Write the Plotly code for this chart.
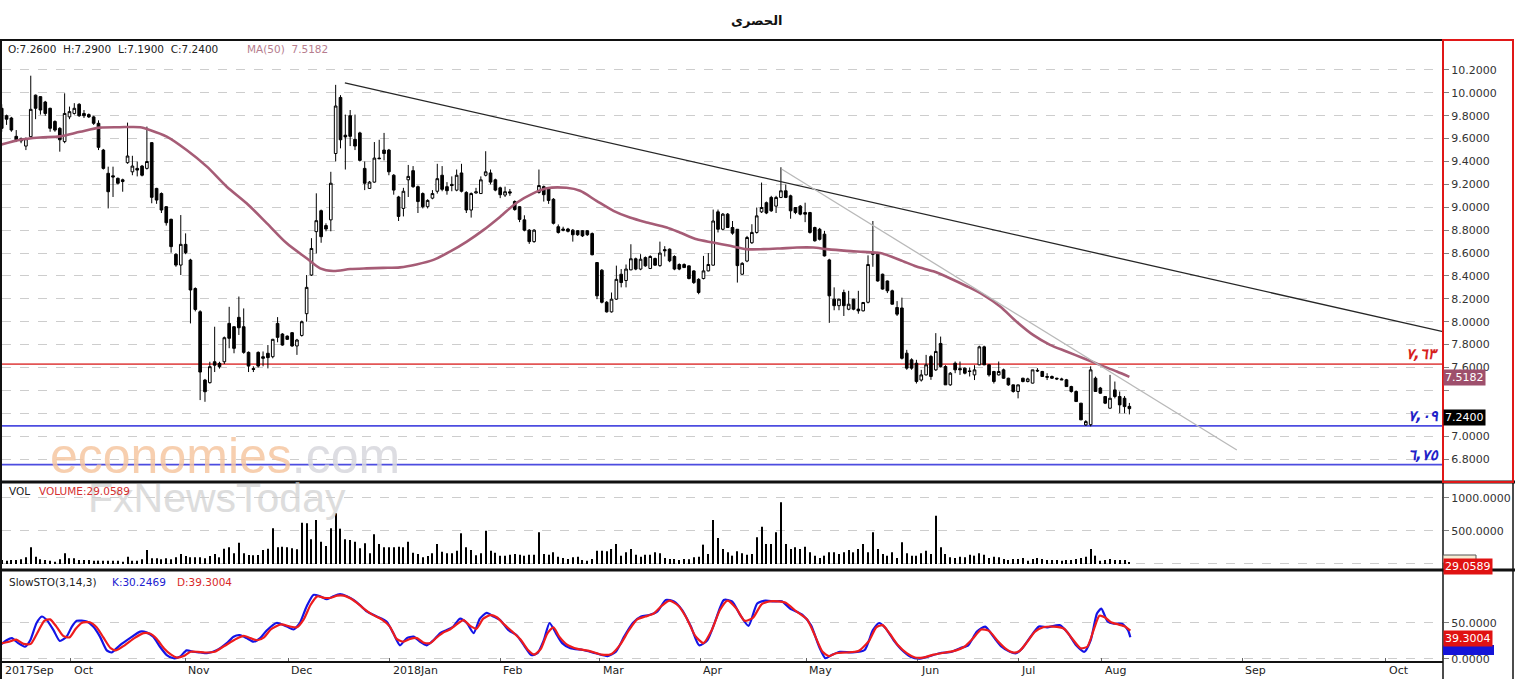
import plotly.graph_objects as go

# ---------------- data ----------------
TITLE = "الحصرى"

opens = [9.865, 9.80, 9.78, 9.62, 9.60, 9.535, 9.617, 9.98, 9.967, 9.92,
         9.865, 9.75, 9.69, 9.574, 9.79, 9.82, 9.90, 9.82, 9.81, 9.79,
         9.734, 9.50, 9.297, 9.275, 9.253, 9.24, 9.39, 9.31, 9.34, 9.36,
         9.34, 9.565, 9.165, 9.12, 9.005, 8.895, 8.589, 8.495, 8.676, 8.539,
         8.29, 8.087, 7.49, 7.467, 7.65, 7.636, 7.65, 7.985, 7.956, 8.038,
         7.956, 7.732, 7.59, 7.732, 7.694, 7.724, 7.694, 7.985, 7.892, 7.874,
         7.904, 7.788, 7.88, 8.07, 8.408, 8.787, 8.97, 8.84, 8.89, 9.47,
         9.96, 9.63, 9.80, 9.594, 9.65, 9.34, 9.165, 9.22, 9.43, 9.50,
         9.50, 9.28, 9.09,
         8.99, 9.24, 9.32, 9.18, 9.12, 9.005, 9.08,
         9.14, 9.28, 9.18, 9.20, 9.15, 9.30, 9.13, 8.976, 9.125, 9.12,
         9.28, 9.30, 9.24, 9.17, 9.107, 9.135, 9.05, 9.005, 8.89, 8.80,
         8.70, 9.13, 9.18, 9.165, 9.07, 8.83, 8.81, 8.81, 8.80, 8.795,
         8.795, 8.795, 8.77,
         8.517, 8.45, 8.17, 8.086, 8.197, 8.415, 8.36,
         8.453, 8.55, 8.46, 8.56, 8.465, 8.552, 8.49, 8.63, 8.634, 8.57,
         8.50, 8.50, 8.488, 8.444, 8.37, 8.377, 8.444, 8.494, 8.96, 8.808,
         8.94, 8.823, 8.808, 8.415, 8.53, 8.69, 8.78, 8.96, 9.04, 9.086,
         9.01, 9.086, 9.144, 9.10, 8.998, 9.01, 8.954, 8.954, 8.823, 8.808,
         8.765, 8.54, 8.197, 8.14, 8.255, 8.109, 8.197, 8.11, 8.095, 8.17,
         8.60, 8.60, 8.415, 8.356, 8.27, 8.124,
         8.12, 7.725, 7.667, 7.637,
         7.49, 7.535, 7.696, 7.579, 7.81, 7.608, 7.448, 7.637, 7.59, 7.594,
         7.57, 7.535, 7.623, 7.78, 7.623, 7.565, 7.535, 7.579, 7.506, 7.448,
         7.39, 7.506, 7.477, 7.463, 7.575, 7.565, 7.521, 7.521, 7.506, 7.50,
         7.492, 7.433, 7.39, 7.288, 7.098, 7.10, 7.506, 7.42, 7.346, 7.244,
         7.404, 7.346, 7.331, 7.26]

highs = [9.90, 9.81, 9.79, 9.675, 9.61, 9.61, 10.15, 9.985, 9.97, 9.93,
         9.87, 9.76, 9.70, 9.996, 9.88, 9.91, 9.91, 9.85, 9.82, 9.80,
         9.76, 9.51, 9.355, 9.355, 9.26, 9.25, 9.74, 9.45, 9.40, 9.37,
         9.705, 9.57, 9.17, 9.13, 9.01, 8.90, 8.60, 8.932, 8.772, 8.55,
         8.30, 8.10, 7.50, 7.65, 7.956, 7.65, 7.87, 8.13, 7.96, 8.22,
         8.116, 7.74, 7.61, 7.74, 7.74, 7.796, 7.85, 8.04, 7.90, 7.88,
         7.91, 7.85, 8.01, 8.408, 8.73, 9.122, 8.98, 8.86, 9.31, 10.07,
         9.98, 9.81, 9.85, 9.81, 9.66, 9.40, 9.23, 9.57, 9.59, 9.65,
         9.51, 9.29, 9.10,
         9.17, 9.37, 9.36, 9.19, 9.13, 9.07, 9.15,
         9.38, 9.36, 9.22, 9.27, 9.33, 9.38, 9.14, 9.13, 9.17, 9.27,
         9.49, 9.33, 9.25, 9.18, 9.18, 9.16, 9.06, 9.01, 8.93, 8.81,
         8.81, 9.33, 9.19, 9.17, 9.08, 8.85, 8.83, 8.82, 8.81, 8.80,
         8.80, 8.80, 8.78,
         8.52, 8.46, 8.18, 8.255, 8.49, 8.46, 8.50,
         8.677, 8.56, 8.59, 8.57, 8.58, 8.56, 8.70, 8.66, 8.64, 8.58,
         8.51, 8.51, 8.49, 8.45, 8.38, 8.575, 8.60, 8.98, 8.98, 8.95,
         8.95, 8.88, 8.81, 8.52, 8.75, 8.852, 8.998, 9.216, 9.05, 9.10,
         9.10, 9.35, 9.20, 9.11, 9.00, 9.02, 9.04, 8.96, 8.83, 8.82,
         8.794, 8.55, 8.30, 8.20, 8.28, 8.27, 8.20, 8.27, 8.17, 8.58,
         8.88, 8.61, 8.42, 8.36, 8.28, 8.18,
         8.21, 7.754, 7.68, 7.667,
         7.579, 7.71, 7.71, 7.90, 7.87, 7.62, 7.56, 7.652, 7.652, 7.60,
         7.60, 7.62, 7.79, 7.79, 7.63, 7.57, 7.652, 7.59, 7.51, 7.45,
         7.45, 7.51, 7.51, 7.58, 7.594, 7.57, 7.55, 7.53, 7.51, 7.51,
         7.50, 7.44, 7.40, 7.29, 7.14, 7.61, 7.52, 7.43, 7.35, 7.535,
         7.477, 7.39, 7.35, 7.29]

lows = [9.66, 9.72, 9.66, 9.57, 9.56, 9.50, 9.61, 9.77, 9.81, 9.80,
        9.66, 9.66, 9.486, 9.56, 9.77, 9.81, 9.79, 9.78, 9.78, 9.72,
        9.50, 9.33, 8.99, 9.09, 9.20, 9.136, 9.38, 9.28, 9.27, 9.27,
        9.33, 9.035, 9.03, 8.95, 8.84, 8.603, 8.48, 8.408, 8.59, 7.985,
        8.09, 7.315, 7.30, 7.46, 7.56, 7.59, 7.63, 7.768, 7.724, 7.884,
        7.72, 7.56, 7.56, 7.60, 7.61, 7.592, 7.68, 7.82, 7.79, 7.84,
        7.78, 7.71, 7.87, 8.0, 8.40, 8.597, 8.69, 8.79, 8.79, 9.40,
        9.515, 9.33, 9.535, 9.50, 9.40, 9.15, 9.16, 9.215, 9.42, 9.41,
        9.28, 9.11, 8.88,
        8.92, 9.09, 9.17, 8.95, 8.99, 8.99, 9.07,
        9.12, 9.14, 9.11, 9.14, 9.14, 9.13, 8.95, 8.91, 9.12, 9.12,
        9.27, 9.20, 9.14, 9.08, 9.09, 9.10, 8.97, 8.87, 8.79, 8.68,
        8.69, 9.12, 9.05, 9.03, 8.85, 8.77, 8.79, 8.78, 8.70, 8.75,
        8.74, 8.75, 8.58,
        8.197, 8.16, 8.08, 8.08, 8.19, 8.30, 8.30,
        8.45, 8.45, 8.45, 8.48, 8.46, 8.49, 8.48, 8.57, 8.52, 8.45,
        8.45, 8.47, 8.37, 8.33, 8.24, 8.37, 8.44, 8.49, 8.78, 8.80,
        8.82, 8.76, 8.342, 8.41, 8.52, 8.68, 8.77, 8.95, 8.94, 8.96,
        8.95, 9.08, 9.08, 8.90, 8.94, 8.93, 8.87, 8.77, 8.70, 8.71,
        8.57, 7.99, 8.10, 8.10, 8.05, 8.10, 8.10, 8.07, 8.09, 8.16,
        8.48, 8.35, 8.28, 8.25, 8.15, 8.05,
        7.67, 7.58, 7.58, 7.46,
        7.477, 7.53, 7.492, 7.57, 7.60, 7.448, 7.44, 7.55, 7.535, 7.54,
        7.521, 7.49, 7.62, 7.62, 7.52, 7.46, 7.53, 7.50, 7.44, 7.38,
        7.33, 7.47, 7.47, 7.46, 7.56, 7.52, 7.49, 7.50, 7.49, 7.49,
        7.43, 7.38, 7.30, 7.14, 7.09, 7.085, 7.39, 7.37, 7.28, 7.24,
        7.33, 7.20, 7.20, 7.19]

closes = [9.69, 9.77, 9.675, 9.59, 9.58, 9.60, 9.856, 9.865, 9.85, 9.82,
          9.69, 9.675, 9.59, 9.82, 9.836, 9.865, 9.80, 9.80, 9.79, 9.734,
          9.524, 9.34, 9.136, 9.265, 9.21, 9.225, 9.448, 9.36, 9.325, 9.28,
          9.40, 9.087, 9.063, 8.976, 8.865, 8.656, 8.495, 8.676, 8.603, 8.277,
          8.107, 7.56, 7.388, 7.607, 7.62, 7.607, 7.86, 7.855, 7.767, 7.947,
          7.732, 7.612, 7.583, 7.612, 7.68, 7.686, 7.846, 7.863, 7.796, 7.846,
          7.788, 7.84, 8.0, 8.30, 8.64, 8.883, 8.743, 8.81, 9.21, 9.885,
          9.59, 9.615, 9.62, 9.535, 9.41, 9.21, 9.22, 9.43, 9.425, 9.47,
          9.31, 9.15, 8.92,
          9.14, 9.27, 9.18, 9.05, 9.005, 9.06, 9.12,
          9.25, 9.157, 9.145, 9.19, 9.28, 9.14, 8.976, 9.12, 9.135, 9.24,
          9.31, 9.22, 9.15, 9.11, 9.136, 9.125, 8.98, 8.894, 8.80, 8.70,
          8.80, 9.19, 9.11, 9.06, 8.86, 8.78, 8.80, 8.79, 8.76, 8.76,
          8.75, 8.76, 8.585,
          8.226, 8.17, 8.086, 8.197, 8.37, 8.342, 8.46,
          8.55, 8.46, 8.546, 8.488, 8.57, 8.494, 8.60, 8.62, 8.532, 8.46,
          8.46, 8.473, 8.377, 8.342, 8.255, 8.444, 8.50, 8.88, 8.808, 8.94,
          8.823, 8.774, 8.49, 8.51, 8.736, 8.78, 8.925, 8.998, 8.95, 8.969,
          9.086, 9.144, 9.086, 8.969, 8.954, 8.94, 8.94, 8.78, 8.707, 8.72,
          8.575, 8.226, 8.14, 8.197, 8.14, 8.153, 8.109, 8.095, 8.168, 8.50,
          8.59, 8.356, 8.285, 8.27, 8.153, 8.066,
          7.68, 7.594, 7.594, 7.477,
          7.535, 7.623, 7.521, 7.74, 7.608, 7.448, 7.55, 7.579, 7.58, 7.55,
          7.565, 7.579, 7.78, 7.623, 7.535, 7.477, 7.565, 7.506, 7.448, 7.39,
          7.448, 7.477, 7.50, 7.579, 7.57, 7.521, 7.515, 7.506, 7.50, 7.492,
          7.433, 7.39, 7.302, 7.142, 7.127, 7.579, 7.39, 7.375, 7.288, 7.331,
          7.346, 7.273, 7.258, 7.24]

volumes = [61, 51, 61, 61, 71, 101, 252, 111, 71, 61,
           51, 35, 71, 162, 86, 86, 61, 61, 61, 51,
           51, 51, 51, 51, 51, 35, 111, 51, 51, 71,
           212, 86, 86, 71, 86, 71, 101, 152, 121, 101,
           101, 101, 86, 121, 152, 101, 232, 252, 162, 323,
           162, 136, 131, 136, 212, 232, 540, 252, 263, 252,
           237, 222, 626, 616, 374, 666, 338, 273, 540, 768,
           535, 374, 364, 338, 237, 313, 162, 450, 303, 252,
           252, 252, 263, 252, 338, 172, 152, 101, 121, 162,
           303, 187, 162, 162, 202, 465, 252, 212, 131, 162,
           505, 202, 172,
           126, 126, 141, 152, 141, 126, 141, 141, 480, 152,
           141, 177, 111, 91, 76, 101, 111, 61, 50, 76,
           202, 202, 192, 227, 303, 126, 177, 227, 141, 111,
           141, 141, 177, 162, 91, 76, 76, 61, 76, 71,
           101, 111, 293, 152, 667, 394, 227, 177, 126, 192,
           162, 141, 152, 404, 566, 303, 303, 480, 934, 303,
           227, 253, 227, 263, 177, 126, 91, 126, 177, 177,
           152, 177, 212, 177, 227, 303, 177, 480, 227, 152,
           126, 177, 91, 328, 162, 126, 126, 162, 202, 152,
           732, 253, 152, 101, 91, 111, 101, 141, 126, 162,
           141, 91, 111, 101, 76, 61, 76, 76, 91, 50,
           76, 91, 76, 61, 61, 61, 50, 61, 61, 76,
           91, 111, 227, 126, 50, 61, 76, 61, 61, 61, 29.0589]

# MA(50) read at sample bars
ma_x = [-0.35, 3.78, 7.91, 12.05, 16.2, 20.3, 24.4, 28.6, 30.6, 34.1, 38.2, 42.4,
        46.5, 50.6, 54.8, 58.9, 63.0, 65.8, 68.5, 72.0, 75.4, 78.8, 82.3, 85.7,
        89.2, 92.6, 96.1, 99.5, 103.0, 106.4, 109.8, 112.6, 116.7, 119.5, 122.9,
        126.4, 129.8, 133.3, 137.4, 140.1, 143.6, 147.0, 150.5, 153.9, 157.4,
        160.8, 164.3, 167.7, 170.5, 174.6, 178.0, 181.5, 185.6, 189.0, 192.5,
        195.9, 199.4, 202.8, 206.3, 209.7, 213.1, 216.6, 220.0, 223.5, 226.9,
        230.4, 233.0]
ma_v = [9.544, 9.59, 9.61, 9.62, 9.66, 9.696, 9.70, 9.70, 9.676, 9.617, 9.50, 9.355,
        9.18, 9.035, 8.86, 8.685, 8.554, 8.466, 8.443, 8.46, 8.466, 8.47, 8.475, 8.50,
        8.54, 8.612, 8.70, 8.80, 8.918, 9.04, 9.122, 9.166, 9.17, 9.144, 9.056,
        8.969, 8.91, 8.867, 8.823, 8.78, 8.72, 8.692, 8.663, 8.634, 8.634,
        8.64, 8.648, 8.648, 8.634, 8.619, 8.61, 8.60, 8.54, 8.482, 8.44,
        8.38, 8.31, 8.235, 8.133, 8.0, 7.885, 7.798, 7.74, 7.68, 7.623,
        7.565, 7.5182]

# Slow stochastic %K (blue)
k_x = [-0.35, 1.0, 2.1, 3.4, 4.8, 5.9, 7.2, 8.3, 9.3, 10.7, 12.0, 13.4, 14.5, 15.5,
       17.6, 18.9, 20.3, 21.7, 22.7, 24.4, 26.5, 28.6, 29.9, 31.3, 32.7, 34.1, 35.5,
       36.8, 38.2, 39.6, 41.0, 42.4, 44.4, 46.5, 47.9, 49.2, 50.6, 52.0, 53.4, 54.8,
       56.8, 58.9, 60.3, 61.6, 63.0, 64.4, 65.8, 67.2, 68.5, 69.9, 71.3, 72.7, 74.0,
       75.4, 77.5, 79.5, 80.9, 82.3, 83.7, 85.1, 86.4, 87.8, 89.2, 90.6, 91.9, 93.3,
       94.7, 96.1, 97.5, 98.8, 100.2, 101.6, 103.0,
       104.7, 106.4, 108.1, 109.4, 110.7, 112.0, 113.2, 114.5, 115.8, 117.5, 120.1,
       122.7, 125.2, 126.9, 128.6, 130.4, 132.1, 133.8, 135.5, 137.2, 138.9, 140.6,
       142.4, 144.1, 145.8, 147.5, 149.2, 150.9, 152.6, 154.3, 156.1, 157.8, 159.5,
       161.2, 162.9, 165.5, 167.2, 168.9, 170.2, 171.5, 173.2, 175.8, 178.3, 180.0,
       181.3, 182.6, 184.3, 186.0, 187.8, 189.5, 191.2, 193.8, 196.3, 198.0, 199.7,
       201.5, 203.2, 204.9, 206.6, 208.3, 209.6, 210.9, 212.6, 214.3, 216.0, 218.6,
       220.3, 222.0, 223.7, 225.0, 226.3, 227.2, 228.5, 229.8, 231.5, 232.7, 233.2]
k_v = [19, 26, 29, 22, 17, 26, 50, 59, 54, 40, 25, 31, 45, 53,
       52, 45, 31, 12, 9, 19, 29, 38, 37, 31, 17, 5.5, 1,
       3, 12, 10, 9, 8, 12, 22, 31, 33, 29, 24, 29, 40,
       50, 45, 41, 50, 73, 89, 87, 83, 87, 90, 87, 82, 75,
       66, 59, 52, 36, 19, 29, 31, 24, 19, 26, 36, 40, 45,
       56, 50, 36, 56, 64, 59, 54,
       40, 33, 17, 5.5, 8, 26, 50, 36, 22, 15, 12.5,
       8, 4, 10, 31, 50, 59, 61, 66, 82, 80, 68,
       45, 19, 26, 54, 82, 80, 61, 46, 77, 81, 80,
       80, 70, 61, 47, 17, 1, 5.5, 10, 9, 12.5, 40,
       50, 43, 26, 12.5, 3, 0.5, 3, 8, 10, 15, 19,
       38, 45, 31, 17, 10, 8, 15, 31, 45, 44, 47,
       36, 19, 10, 26, 63, 70, 52, 49, 49, 40, 30.2469]

# Slow stochastic %D (red)
d_x = [0, 1.5, 3.0, 4.5, 6.0, 7.5, 8.8, 10.0, 11.3, 12.7, 14.0, 15.3, 16.5, 18.2,
       19.6, 21.0, 22.5, 23.6, 25.4, 27.4, 29.3, 30.7, 32.0, 33.5, 35.0, 36.2, 37.6,
       39.0, 40.5, 42.0, 44.0, 46.0, 48.5, 50.0, 51.4, 52.8, 54.2, 55.6, 57.7, 59.6,
       61.0, 62.4, 63.8, 65.2, 66.6, 68.0, 69.3, 70.7, 72.1, 73.4, 74.8, 76.5, 78.5,
       80.2, 81.6, 83.0, 84.4, 85.8, 87.1, 88.5, 89.9, 91.3, 92.6, 94.0, 95.4, 96.8,
       98.1, 99.5, 101.0, 102.3, 103.8, 105.5, 107.2, 108.8, 110.0, 111.4, 112.7,
       114.0, 115.2, 116.8, 119.0, 121.5, 124.0, 126.0, 127.8, 129.6, 131.3, 133.0,
       134.7, 136.4, 138.0, 139.8, 141.5, 143.3, 145.0, 146.7, 148.4, 150.0, 151.8,
       153.5, 155.2, 157.0, 158.7, 160.4, 162.0, 164.2, 166.4, 168.0, 169.6, 170.9,
       172.4, 174.5, 177.0, 179.2, 180.7, 182.0, 183.5, 185.2, 187.0, 188.7, 190.4,
       192.5, 195.0, 197.2, 198.9, 200.6, 202.4, 204.0, 205.8, 207.5, 209.0, 210.3,
       211.8, 213.5, 215.2, 217.3, 219.5, 221.2, 222.9, 224.3, 225.7, 226.8, 227.9,
       229.2, 230.7, 232.1, 233.2]
d_v = [22, 24, 27, 21, 21, 38, 53, 55, 45, 32, 30, 42, 50, 51,
       44, 30, 15, 12, 19, 29, 36, 35, 28, 15, 6, 2, 4,
       10, 10, 9, 10, 18, 28, 32, 29, 26, 30, 41, 48, 45,
       44, 55, 75, 87, 85, 85, 88, 88, 84, 78, 70, 62, 55,
       45, 28, 24, 28, 29, 23, 22, 30, 37, 41, 48, 54, 46,
       42, 56, 61, 58, 48, 38, 27, 12, 6, 14, 35,
       44, 31, 20, 14, 11, 6, 7, 20, 40, 55, 59,
       63, 74, 81, 74, 57, 32, 22, 40, 68, 81, 70,
       53, 57, 76, 80, 80, 78, 66, 55, 33, 10, 4,
       8, 9, 11, 25, 44, 47, 35, 19, 8, 2, 2,
       6, 9, 12, 17, 28, 41, 39, 25, 14, 9, 11,
       23, 38, 44, 45, 42, 28, 15, 17, 42, 60, 58,
       51, 48, 45, 39.3004]

# month boundaries (bar index) and labels of the time axis
month_pos = [0, 14.3, 37.9, 59.2, 80.2, 103.0, 123.6, 144.3, 166.2, 189.3, 210.0, 227.3, 256.3, 286.0]
month_labels = ["2017Sep", "Oct", "Nov", "Dec", "2018Jan", "Feb", "Mar", "Apr",
                "May", "Jun", "Jul", "Aug", "Sep", "Oct"]

price_ticks = [6.8, 7.0, 7.2, 7.4, 7.6, 7.8, 8.0, 8.2, 8.4, 8.6, 8.8, 9.0,
               9.2, 9.4, 9.6, 9.8, 10.0, 10.2]
price_hidden = [7.2, 7.4]          # labels covered by the value tags in the reference
vol_ticks = [0, 500, 1000]
vol_hidden = [0]
sto_ticks = [0, 50]

# drawn trend lines (bar index, price)
trend_black_x = [70.9, 297.8]
trend_black_y = [10.087, 7.913]
trend_gray_x = [161.2, 255.2]
trend_gray_y = [9.332, 6.879]

# horizontal levels
level_values = [7.63, 7.09, 6.75]
level_labels = ["٧,٦٣", "٧,٠٩", "٦,٧٥"]
level_colors = ["#e25555", "#4c4ce0", "#4c4ce0"]
level_text_colors = ["#d61f1f", "#1f1fc8", "#1f1fc8"]

# ---------------- layout geometry ----------------
W, H = 1515, 679
PL, PR, PT, PB = 2, 1443, 40, 662
PW, PH = PR - PL, PB - PT


def fx(px):
    return (px - PL) / PW


def fy(py):
    return (PB - py) / PH


def tick_text(vals, hidden):
    return ["" if v in hidden else "%.4f" % v for v in vals]


idx = list(range(len(closes)))
FONT = "DejaVu Sans"

fig = go.Figure()

fig.add_trace(go.Candlestick(
    x=idx, open=opens, high=highs, low=lows, close=closes,
    increasing=dict(line=dict(color="black", width=1), fillcolor="white"),
    decreasing=dict(line=dict(color="black", width=1), fillcolor="black"),
    whiskerwidth=0, xaxis="x", yaxis="y", showlegend=False, hoverinfo="skip"))

fig.add_trace(go.Scatter(x=ma_x, y=ma_v, mode="lines", xaxis="x", yaxis="y",
                         line=dict(color="#a65c76", width=2.6, shape="spline", smoothing=0.8),
                         showlegend=False, hoverinfo="skip"))

fig.add_trace(go.Scatter(x=trend_black_x, y=trend_black_y, mode="lines", xaxis="x", yaxis="y",
                         line=dict(color="#262626", width=1.3), showlegend=False, hoverinfo="skip"))
fig.add_trace(go.Scatter(x=trend_gray_x, y=trend_gray_y, mode="lines", xaxis="x", yaxis="y",
                         line=dict(color="#b9b9b9", width=1.3), showlegend=False, hoverinfo="skip"))

fig.add_trace(go.Bar(x=idx, y=volumes, width=0.22, xaxis="x", yaxis="y2",
                     marker=dict(color="black", line=dict(width=0)),
                     showlegend=False, hoverinfo="skip"))

fig.add_trace(go.Scatter(x=k_x, y=k_v, mode="lines", xaxis="x", yaxis="y3",
                         line=dict(color="#1414e6", width=2.2, shape="spline", smoothing=0.6),
                         showlegend=False, hoverinfo="skip"))
fig.add_trace(go.Scatter(x=d_x, y=d_v, mode="lines", xaxis="x", yaxis="y3",
                         line=dict(color="#ee1c1c", width=2.2, shape="spline", smoothing=0.6),
                         showlegend=False, hoverinfo="skip"))

axis_common = dict(side="right", anchor="x", showgrid=True, gridcolor="#cdcdcd",
                   griddash="dash", gridwidth=1, zeroline=False, showline=False,
                   ticks="outside", ticklen=5, tickcolor="#808080",
                   tickfont=dict(family=FONT, size=11, color="#333333"),
                   fixedrange=True)

fig.update_layout(
    width=W, height=H,
    margin=dict(l=PL, r=W - PR, t=PT, b=H - PB),
    paper_bgcolor="white", plot_bgcolor="white",
    hovermode=False, showlegend=False, boxgap=0.22,
    xaxis=dict(domain=[0, 1], range=[0.06, 297.8], anchor="y3", showgrid=False,
               zeroline=False, showline=False, tickvals=month_pos,
               ticktext=[""] * len(month_pos), ticks="inside", ticklen=4,
               tickcolor="#666666", rangeslider=dict(visible=False), fixedrange=True),
    yaxis=dict(domain=[fy(482), 1], range=[6.599, 10.462], tickvals=price_ticks,
               ticktext=tick_text(price_ticks, price_hidden), **axis_common),
    yaxis2=dict(domain=[fy(570), fy(482)], range=[-91, 1242], tickvals=vol_ticks,
                ticktext=tick_text(vol_ticks, vol_hidden), **axis_common),
    yaxis3=dict(domain=[0, fy(570)], range=[-4.2, 123.6], tickvals=sto_ticks,
                ticktext=tick_text(sto_ticks, []), **axis_common),
)

shapes = []
# horizontal levels
for v, c in zip(level_values, level_colors):
    shapes.append(dict(type="line", xref="paper", yref="y", x0=0, x1=1, y0=v, y1=v,
                       line=dict(color=c, width=1.8), layer="below"))
# frame lines
blk = "#111111"
shapes += [
    dict(type="line", xref="paper", yref="paper", x0=fx(0), x1=1, y0=1, y1=1, line=dict(color=blk, width=2)),
    dict(type="line", xref="paper", yref="paper", x0=fx(1), x1=fx(1), y0=fy(679), y1=1, line=dict(color=blk, width=2)),
    dict(type="line", xref="paper", yref="paper", x0=fx(0), x1=fx(1515), y0=fy(482), y1=fy(482), line=dict(color=blk, width=3)),
    dict(type="line", xref="paper", yref="paper", x0=fx(0), x1=fx(1515), y0=fy(570), y1=fy(570), line=dict(color=blk, width=3)),
    dict(type="line", xref="paper", yref="paper", x0=fx(0), x1=1, y0=0, y1=0, line=dict(color=blk, width=2)),
    dict(type="line", xref="paper", yref="paper", x0=1, x1=1, y0=fy(679), y1=fy(482), line=dict(color=blk, width=1.5)),
    dict(type="line", xref="paper", yref="paper", x0=fx(1513), x1=fx(1513), y0=fy(679), y1=fy(482), line=dict(color=blk, width=1.5)),
    dict(type="rect", xref="paper", yref="paper", x0=1, x1=fx(1513), y0=fy(482), y1=1,
         line=dict(color="#e01818", width=2)),
    # small boxes on the volume / stochastic scales
    dict(type="rect", xref="paper", yref="paper", x0=1, x1=fx(1476), y0=fy(563), y1=fy(555),
         line=dict(color="#555555", width=1), fillcolor="#f6ecd4"),
    dict(type="rect", xref="paper", yref="paper", x0=1, x1=fx(1494), y0=fy(655), y1=fy(645),
         line=dict(width=0), fillcolor="#1414d8"),
]
fig.update_layout(shapes=shapes)

ann = []
# watermarks (drawn first, under the other texts)
ann.append(dict(text="<span style='color:#f6c7a2'>economies</span><span style='color:#d8d8de'>.com</span>",
                xref="paper", yref="paper", x=fx(48), y=fy(456), xanchor="left", yanchor="middle",
                showarrow=False, opacity=0.85, font=dict(family="Liberation Sans", size=50)))
ann.append(dict(text="FxNewsToday", xref="paper", yref="paper", x=fx(86), y=fy(498),
                xanchor="left", yanchor="middle", showarrow=False, opacity=0.7,
                font=dict(family="Liberation Sans", size=41, color="#cfcfcf")))
# title
ann.append(dict(text="<b>" + TITLE + "</b>", xref="paper", yref="paper", x=fx(757), y=fy(20),
                xanchor="center", yanchor="middle", showarrow=False,
                font=dict(family=FONT, size=13, color="#111111")))
# header lines
ohlc_txt = "O:%.4f&nbsp;&nbsp;H:%.4f&nbsp;&nbsp;L:%.4f&nbsp;&nbsp;C:%.4f" % (
    opens[-1], highs[-1], lows[-1], closes[-1])
ann.append(dict(text=ohlc_txt, xref="paper", yref="paper", x=fx(6), y=fy(49),
                xanchor="left", yanchor="middle", showarrow=False,
                font=dict(family=FONT, size=10.5, color="#222222")))
ann.append(dict(text="MA(50)&nbsp;&nbsp;%.4f" % ma_v[-1], xref="paper", yref="paper", x=fx(245), y=fy(49),
                xanchor="left", yanchor="middle", showarrow=False,
                font=dict(family=FONT, size=10.5, color="#b67d8e")))
ann.append(dict(text="VOL", xref="paper", yref="paper", x=fx(7), y=fy(491),
                xanchor="left", yanchor="middle", showarrow=False,
                font=dict(family=FONT, size=10.5, color="#222222")))
ann.append(dict(text="VOLUME:%.4f" % volumes[-1], xref="paper", yref="paper", x=fx(37), y=fy(491),
                xanchor="left", yanchor="middle", showarrow=False,
                font=dict(family=FONT, size=10.5, color="#d43030")))
ann.append(dict(text="SlowSTO(3,14,3)", xref="paper", yref="paper", x=fx(7), y=fy(582),
                xanchor="left", yanchor="middle", showarrow=False,
                font=dict(family=FONT, size=10.5, color="#222222")))
ann.append(dict(text="K:%.4f" % k_v[-1], xref="paper", yref="paper", x=fx(110), y=fy(582),
                xanchor="left", yanchor="middle", showarrow=False,
                font=dict(family=FONT, size=10.5, color="#2020d0")))
ann.append(dict(text="D:%.4f" % d_v[-1], xref="paper", yref="paper", x=fx(175), y=fy(582),
                xanchor="left", yanchor="middle", showarrow=False,
                font=dict(family=FONT, size=10.5, color="#d82828")))
# level labels
for v, t, c in zip(level_values, level_labels, level_text_colors):
    ann.append(dict(text="<b><i>" + t + "</i></b>", xref="paper", yref="y", x=fx(1441), y=v,
                    yshift=10, xanchor="right", yanchor="middle", showarrow=False,
                    font=dict(family=FONT, size=15, color=c)))
# value tags on the right scales
tag_font = dict(family=FONT, size=11, color="white")
ann.append(dict(text="%.4f" % ma_v[-1], xref="paper", yref="y", x=1, y=ma_v[-1], yshift=-1,
                xanchor="left", yanchor="middle", showarrow=False, bgcolor="#9e4f6c",
                borderpad=1, font=tag_font))
ann.append(dict(text="%.4f" % closes[-1], xref="paper", yref="y", x=1, y=closes[-1], yshift=-9,
                xanchor="left", yanchor="middle", showarrow=False, bgcolor="#000000",
                borderpad=1, font=tag_font))
ann.append(dict(text="%.4f" % volumes[-1], xref="paper", yref="y2", x=1, y=volumes[-1], yshift=-4,
                xanchor="left", yanchor="middle", showarrow=False, bgcolor="#e01212",
                borderpad=1, font=tag_font))
ann.append(dict(text="%.4f" % d_v[-1], xref="paper", yref="y3", x=1, y=d_v[-1], yshift=-8,
                xanchor="left", yanchor="middle", showarrow=False, bgcolor="#e01212",
                borderpad=1, font=tag_font))
# month labels
for p, t in zip(month_pos, month_labels):
    ann.append(dict(text=t, xref="x", yref="paper", x=p + 0.2, y=fy(670),
                    xanchor="left", yanchor="middle", showarrow=False,
                    font=dict(family=FONT, size=11, color="#222222")))
fig.update_layout(annotations=ann)

fig.write_html("out.html")
